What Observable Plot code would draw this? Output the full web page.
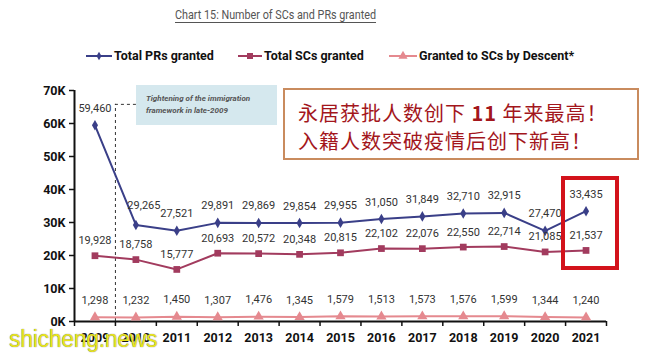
<!DOCTYPE html>
<html>
<head>
<meta charset="utf-8">
<script src="https://cdn.jsdelivr.net/npm/d3@7"></script>
<script src="https://cdn.jsdelivr.net/npm/@observablehq/plot@0.6"></script>
<style>
  body { margin:0; background:#fff; font-family: Roboto, "Noto Sans", sans-serif; }
  #wrap { position:relative; width:651px; height:356px; overflow:hidden; background:#fff; }
  #title { position:absolute; left:175px; top:6px; font-size:13.5px; color:#555; text-decoration:underline; text-underline-offset:3px; white-space:nowrap; transform:scaleX(0.8); transform-origin:left center; }
  #legend { position:absolute; left:0; top:48px; height:20px; width:651px; }
  .li { position:absolute; top:0; display:flex; align-items:center; font-weight:bold; font-size:12.5px; color:#111; white-space:nowrap; }
  .li svg { margin-right:2px; }
  #chart { position:absolute; left:0; top:75px; }
  #note { position:absolute; left:136px; top:85px; width:141px; height:40px; background:#d5e8ee; box-sizing:border-box; padding:8px 0 0 10px; font-size:8px; font-style:italic; font-weight:bold; color:#555; line-height:12px; }
  #cn { position:absolute; left:283px; top:88px; width:356px; height:72px; border:2px solid #c98b5e; box-sizing:border-box; background:#fff; font-family:"Noto Sans CJK SC", sans-serif; color:#a3161c; font-size:20px; letter-spacing:1px; line-height:28px; padding:9px 0 0 13px; white-space:nowrap; }
  #hl { position:absolute; left:561px; top:176px; width:58px; height:94px; border:4px solid #d3121b; box-sizing:border-box; }
  #wm { position:absolute; left:9px; top:326px; font-family:"Liberation Sans", Arial, sans-serif; font-size:23px; color:#e9e51c; text-shadow:0 0 1px #555; letter-spacing:-0.3px; }
</style>
</head>
<body>
<div id="wrap">
  <div id="title">Chart 15: Number of SCs and PRs granted</div>
  <div id="legend"></div>
  <div id="chart"></div>
  <div id="note">Tightening of the immigration<br>framework in late-2009</div>
  <div id="cn">永居获批人数创下 <b>11</b> 年来最高！<br>入籍人数突破疫情后创下新高！</div>
  <div id="hl"></div>
  <div id="wm">shicheng.news</div>
</div>
<script>
const years = [2009,2010,2011,2012,2013,2014,2015,2016,2017,2018,2019,2020,2021];
const prGranted = [59460,29265,27521,29891,29869,29854,29955,31050,31849,32710,32915,27470,33435];
const scGranted = [19928,18758,15777,20693,20572,20348,20815,22102,22076,22550,22714,21085,21537];
const scDescent = [1298,1232,1450,1307,1476,1345,1579,1513,1573,1576,1599,1344,1240];
const seriesNames = ["Total PRs granted","Total SCs granted","Granted to SCs by Descent*"];
const yTicks = [0,10000,20000,30000,40000,50000,60000,70000];
const tighteningYear = 2009.5;

const colPR = "#3a3f88", colSC = "#a23b5e", colDS = "#e5898f";

const pr = years.map((y,i)=>({year:y, v:prGranted[i]}));
const sc = years.map((y,i)=>({year:y, v:scGranted[i]}));
const ds = years.map((y,i)=>({year:y, v:scDescent[i]}));
const fmt = d3.format(",");
const bounds = d3.range(years[0]-0.5, years[years.length-1]+1, 1);

const chart = Plot.plot({
  width: 651, height: 281,
  marginLeft: 74, marginRight: 45, marginTop: 15, marginBottom: 35,
  style: {fontFamily: "Roboto, sans-serif", background: "transparent", overflow: "visible"},
  x: {domain: [years[0]-0.5, years[years.length-1]+0.5]},
  y: {domain: [0, 70000]},
  marks: [
    Plot.axisY({ticks: yTicks, tickFormat: d => d/1000 + "K", tickSize: 5, tickPadding: 4, fontSize: 12.5, fontWeight: "bold", fill: "#111", stroke: "#111", strokeWidth: 1.5, label: null}),
    Plot.axisX({ticks: years, tickFormat: d => String(d), tickSize: 0, tickPadding: 12, fontSize: 12.5, fontWeight: "bold", fill: "#111", label: null}),
    Plot.axisX({ticks: bounds, tickFormat: () => "", tickSize: 5, stroke: "#111", strokeWidth: 1.5, label: null}),
    Plot.ruleX([tighteningYear], {y1: 0, y2: 65800, stroke: "#333", strokeDasharray: "3,3", strokeWidth: 1}),
    Plot.ruleY([65800], {x1: tighteningYear, x2: 2010.02, stroke: "#333", strokeDasharray: "3,3", strokeWidth: 1}),
    Plot.ruleX([years[0]-0.5], {y1: 0, y2: 70000, stroke: "#111", strokeWidth: 2}),
    Plot.ruleY([0], {stroke: "#111", strokeWidth: 2}),
    Plot.lineY(ds, {x: "year", y: "v", stroke: colDS, strokeWidth: 2}),
    Plot.dot(ds, {x: "year", y: "v", symbol: "triangle", r: 3.8, fill: colDS, stroke: null}),
    Plot.lineY(sc, {x: "year", y: "v", stroke: colSC, strokeWidth: 2}),
    Plot.dot(sc, {x: "year", y: "v", symbol: "square", r: 3.8, fill: colSC, stroke: null}),
    Plot.lineY(pr, {x: "year", y: "v", stroke: colPR, strokeWidth: 2}),
    Plot.dot(pr, {x: "year", y: "v", symbol: "diamond", r: 3.2, fill: colPR, stroke: null}),
    Plot.text(ds, {x: "year", y: "v", text: d => fmt(d.v), dy: -17, fontSize: 11, fill: "#333"}),
    Plot.text(sc, {x: "year", y: "v", text: d => fmt(d.v), dy: -15, fontSize: 11, fill: "#333"}),
    Plot.text(pr.filter(d => d.year !== 2010), {x: "year", y: "v", text: d => fmt(d.v), dy: -17, fontSize: 11, fill: "#333"}),
    Plot.text(pr.filter(d => d.year === 2010), {x: "year", y: "v", text: d => fmt(d.v), dy: -19, dx: 8, fontSize: 11, fill: "#333"})
  ]
});
document.getElementById("chart").appendChild(chart);

// legend
const legend = document.getElementById("legend");
const items = [
  {name: seriesNames[0], color: colPR, sym: "diamond", left: 86, w: 26, r: 2.6},
  {name: seriesNames[1], color: colSC, sym: "square", left: 238, w: 24, r: 3.4},
  {name: seriesNames[2], color: colDS, sym: "triangle", left: 389, w: 28, r: 3.4}
];
items.forEach(it => {
  const div = document.createElement("div");
  div.className = "li";
  div.style.left = it.left + "px";
  const ns = "http://www.w3.org/2000/svg";
  const s = document.createElementNS(ns, "svg");
  s.setAttribute("width", it.w); s.setAttribute("height", 12);
  const ln = document.createElementNS(ns, "line");
  ln.setAttribute("x1", 0); ln.setAttribute("x2", it.w); ln.setAttribute("y1", 6); ln.setAttribute("y2", 6);
  ln.setAttribute("stroke", it.color); ln.setAttribute("stroke-width", 2);
  s.appendChild(ln);
  const p = document.createElementNS(ns, "path");
  const symMap = {diamond: d3.symbolDiamond, square: d3.symbolSquare, triangle: d3.symbolTriangle};
  p.setAttribute("d", d3.symbol(symMap[it.sym], Math.PI * it.r * it.r)());
  p.setAttribute("transform", `translate(${it.w/2},6)`);
  p.setAttribute("fill", it.color);
  s.appendChild(p);
  div.appendChild(s);
  const t = document.createElement("span");
  t.textContent = it.name;
  div.appendChild(t);
  legend.appendChild(div);
});
</script>
</body>
</html>
